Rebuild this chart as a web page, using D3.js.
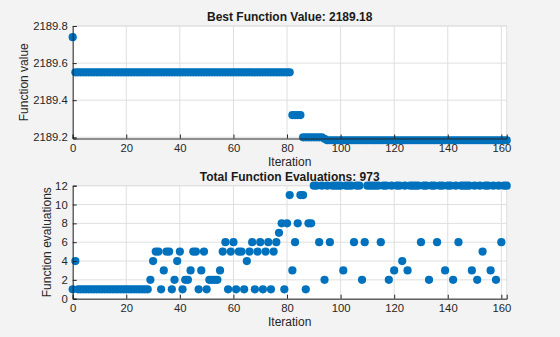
<!DOCTYPE html>
<html><head><meta charset="utf-8">
<script src="https://cdn.jsdelivr.net/npm/d3@7/dist/d3.min.js"></script>
<style>
body{margin:0;background:#f3f3f3;}
svg{display:block;font-family:"Liberation Sans",Arial,Helvetica,sans-serif;}
</style>
</head><body>
<svg id="chart" width="560" height="337"></svg>
<script>
// ---------- DATA ----------
const bestValues = [
2189.74,2189.55,2189.55,2189.55,2189.55,2189.55,2189.55,2189.55,2189.55,2189.55,
2189.55,2189.55,2189.55,2189.55,2189.55,2189.55,2189.55,2189.55,2189.55,2189.55,
2189.55,2189.55,2189.55,2189.55,2189.55,2189.55,2189.55,2189.55,2189.55,2189.55,
2189.55,2189.55,2189.55,2189.55,2189.55,2189.55,2189.55,2189.55,2189.55,2189.55,
2189.55,2189.55,2189.55,2189.55,2189.55,2189.55,2189.55,2189.55,2189.55,2189.55,
2189.55,2189.55,2189.55,2189.55,2189.55,2189.55,2189.55,2189.55,2189.55,2189.55,
2189.55,2189.55,2189.55,2189.55,2189.55,2189.55,2189.55,2189.55,2189.55,2189.55,
2189.55,2189.55,2189.55,2189.55,2189.55,2189.55,2189.55,2189.55,2189.55,2189.55,
2189.55,2189.55,2189.32,2189.32,2189.32,2189.32,2189.20,2189.20,2189.20,2189.20,
2189.20,2189.20,2189.20,2189.20,2189.192,2189.184,2189.184,2189.184,2189.184,2189.184,
2189.184,2189.184,2189.184,2189.184,2189.184,2189.184,2189.184,2189.184,2189.184,2189.184,
2189.184,2189.184,2189.184,2189.184,2189.184,2189.184,2189.184,2189.184,2189.184,2189.184,
2189.184,2189.184,2189.184,2189.184,2189.184,2189.184,2189.184,2189.184,2189.184,2189.184,
2189.184,2189.184,2189.184,2189.184,2189.184,2189.184,2189.184,2189.184,2189.184,2189.184,
2189.184,2189.184,2189.184,2189.184,2189.184,2189.184,2189.184,2189.184,2189.184,2189.184,
2189.184,2189.184,2189.184,2189.184,2189.184,2189.184,2189.184,2189.184,2189.184,2189.184,
2189.184,2189.184,2189.184
];
const funcEvals = [
1,4,1,1,1,1,1,1,1,1,
1,1,1,1,1,1,1,1,1,1,
1,1,1,1,1,1,1,1,1,2,
4,5,5,1,3,5,5,1,2,4,
5,1,2,2,3,5,5,1,3,5,
1,2,2,2,2,3,5,6,1,5,
6,1,5,5,1,4,5,6,1,5,
6,1,5,6,1,5,6,7,8,1,
8,11,3,6,8,11,11,1,8,8,
12,12,6,12,2,12,6,12,12,12,
12,3,12,12,12,6,12,12,2,6,
12,12,12,12,12,6,12,12,2,12,
3,12,12,4,12,3,12,12,12,12,
6,12,12,2,12,12,6,12,12,3,
12,12,2,12,6,12,12,12,12,3,
12,2,12,5,12,12,3,12,2,12,
6,12,12
];
const iterations = bestValues.map((v, i) => i);
const xTicks = [0, 20, 40, 60, 80, 100, 120, 140, 160];
const bestTicks = [2189.2, 2189.4, 2189.6, 2189.8];
const evalTicks = [0, 2, 4, 6, 8, 10, 12];
const bestTitle = "Best Function Value: ";
const evalTitle = "Total Function Evaluations: ";
const xLabel = "Iteration";
const bestYLabel = "Function value";
const evalYLabel = "Function evaluations";

// ---------- DRAW ----------
const svg = d3.select("#chart");
const blue = "#0072BD";
const textCol = "#262626";
const gridCol = "#dfdfdf";
const left = 72.7, right = 506.7;

function panel(opt) {
  const x = d3.scaleLinear().domain([0, d3.max(iterations)]).range([left, right]);
  const y = d3.scaleLinear().domain(opt.yDomain).range([opt.bottom, opt.top]);
  const g = svg.append("g");
  g.append("rect").attr("x", left).attr("y", opt.top)
    .attr("width", right - left).attr("height", opt.bottom - opt.top).attr("fill", "#fff");
  // grid
  g.append("g").selectAll("line").data(xTicks).join("line")
    .attr("x1", d => x(d)).attr("x2", d => x(d)).attr("y1", opt.top).attr("y2", opt.bottom)
    .attr("stroke", gridCol).attr("stroke-width", 1);
  g.append("g").selectAll("line").data(opt.yTicks).join("line")
    .attr("x1", left).attr("x2", right).attr("y1", d => y(d)).attr("y2", d => y(d))
    .attr("stroke", gridCol).attr("stroke-width", 1);
  // box (light)
  g.append("line").attr("x1", left).attr("x2", right).attr("y1", opt.top).attr("y2", opt.top).attr("stroke", gridCol);
  g.append("line").attr("x1", right).attr("x2", right).attr("y1", opt.top).attr("y2", opt.bottom).attr("stroke", gridCol);
  // points
  g.append("g").selectAll("circle").data(opt.values).join("circle")
    .attr("cx", (d, i) => x(iterations[i])).attr("cy", d => y(d)).attr("r", 4.1).attr("fill", blue);
  // axes
  const xa = g.append("g").attr("transform", `translate(0,${opt.bottom})`)
    .call(d3.axisBottom(x).tickValues(xTicks).tickSize(-4).tickPadding(5).tickFormat(d3.format("d")));
  const ya = g.append("g").attr("transform", `translate(${left},0)`)
    .call(d3.axisLeft(y).tickValues(opt.yTicks).tickSize(-4).tickPadding(5).tickFormat(opt.yFormat));
  [xa, ya].forEach(a => {
    a.select(".domain").attr("stroke", textCol).attr("stroke-width", 1);
    a.selectAll(".tick line").attr("stroke", textCol);
    a.selectAll("text").attr("fill", textCol).attr("font-size", "11.3px")
      .attr("font-family", "'Liberation Sans',Arial,sans-serif");
  });
  // title
  g.append("text").attr("x", (left + right) / 2).attr("y", opt.top - 5)
    .attr("text-anchor", "middle").attr("font-size", "12px").attr("font-weight", "bold")
    .attr("fill", "#1a1a1a").text(opt.title);
  // x label
  g.append("text").attr("x", (left + right) / 2).attr("y", opt.bottom + 27)
    .attr("text-anchor", "middle").attr("font-size", "12px").attr("fill", textCol).text(xLabel);
  // y label
  g.append("text").attr("transform", `translate(${opt.yLabelX},${(opt.top + opt.bottom) / 2}) rotate(-90)`)
    .attr("text-anchor", "middle").attr("font-size", "12px").attr("fill", textCol).text(opt.yLabel);
}

panel({
  values: bestValues, yDomain: [2189.1935, 2189.8], top: 26, bottom: 138.5,
  yTicks: bestTicks, yFormat: d3.format(".1f"),
  title: bestTitle + bestValues[bestValues.length - 1].toFixed(2),
  yLabel: bestYLabel, yLabelX: 28
});
panel({
  values: funcEvals, yDomain: [0, 12], top: 185.7, bottom: 298.7,
  yTicks: evalTicks, yFormat: d3.format("d"),
  title: evalTitle + d3.sum(funcEvals),
  yLabel: evalYLabel, yLabelX: 51
});
</script>
</body></html>
